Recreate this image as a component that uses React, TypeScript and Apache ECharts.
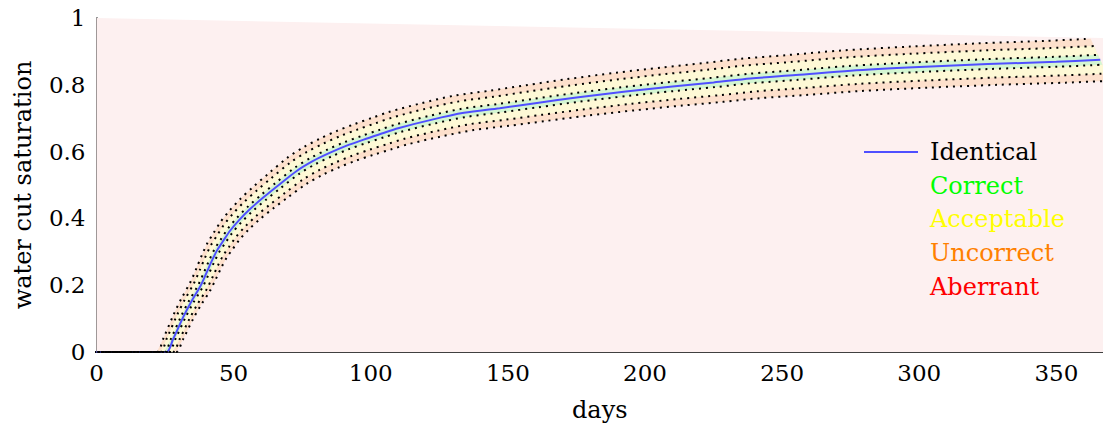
import React, { useEffect, useRef } from "react";
import * as echarts from "echarts";

// Main "Identical" curve: days and water cut saturation
const DAYS = [0, 10, 20, 25.5, 28, 31.7, 34.5, 37.8, 40, 42, 44, 46, 48.7, 52, 56, 60.9, 66, 73, 79, 85, 91, 97.4, 104, 110, 122, 134, 147, 160, 175, 193, 210, 225, 238.5, 255, 275, 300, 325, 350, 366];
const WATER_CUT = [0, 0, 0, 0, 0.04, 0.106, 0.15, 0.196, 0.235, 0.272, 0.305, 0.33, 0.363, 0.395, 0.428, 0.463, 0.497, 0.542, 0.572, 0.596, 0.617, 0.636, 0.654, 0.67, 0.695, 0.716, 0.73, 0.745, 0.762, 0.78, 0.795, 0.807, 0.819, 0.829, 0.842, 0.853, 0.862, 0.869, 0.875];

// Tolerance bands (relative value tolerance, time shift in days)
const BAND_NAMES = ["Uncorrect", "Acceptable", "Correct"];
const BAND_REL = [0.072, 0.047, 0.017];
const BAND_SHIFT = [3.5, 2.3, 0.8];
const BAND_FILLS = ["#fde0cc", "#fef9d6", "#d4f6d2"];

// Aberrant (background) region top edge
const ABERRANT_TOP = [[0, 1], [367, 0.94]];

const X_MAX = 367;
const X_STEP = 50;
const Y_STEP = 0.2;

const LEGEND_LABELS = ["Identical", "Correct", "Acceptable", "Uncorrect", "Aberrant"];
const LEGEND_COLORS = ["#000000", "#00ff00", "#ffff00", "#ff8000", "#ff0000"];

const FONT = "DejaVu Serif";
const BLUE = "#4f4fff";

function upperEdge(k: number): number[][] {
  return DAYS.map((d, i) => [d - BAND_SHIFT[k], Math.min(1, WATER_CUT[i] * (1 + BAND_REL[k]))]);
}
function lowerEdge(k: number): number[][] {
  return DAYS.map((d, i) => [d + BAND_SHIFT[k], WATER_CUT[i] * (1 - BAND_REL[k])]);
}

function polygonSeries(points: number[][], fill: string) {
  return {
    type: "custom",
    coordinateSystem: "cartesian2d",
    data: [[0, 0]],
    clip: true,
    silent: true,
    z: 1,
    renderItem: (_params: any, api: any) => ({
      type: "polygon",
      shape: { points: points.map((p) => api.coord(p)) },
      style: { fill, stroke: null },
    }),
  };
}

export default function App() {
  const ref = useRef<HTMLDivElement>(null);
  useEffect(() => {
    document.body.style.margin = "0";
    const chart = echarts.init(ref.current!, null, { renderer: "svg" });
    const series: any[] = [];
    const aberrantPoly = [[0, 0], ...ABERRANT_TOP, [X_MAX, 0]];
    series.push(polygonSeries(aberrantPoly, "#fdf0f0"));
    for (let k = 0; k < BAND_REL.length; k++) {
      const up = upperEdge(k);
      const lo = lowerEdge(k).slice().reverse();
      series.push(polygonSeries([...up, ...lo], BAND_FILLS[k]));
    }
    series.push({
      type: "line",
      name: "Identical",
      data: DAYS.map((d, i) => [d, WATER_CUT[i]]),
      showSymbol: false,
      smooth: 0.3,
      lineStyle: { color: BLUE, width: 2 },
      z: 3,
    });
    for (let k = 0; k < BAND_REL.length; k++) {
      for (const edge of [upperEdge(k), lowerEdge(k)]) {
        series.push({
          type: "line",
          data: edge,
          showSymbol: false,
          smooth: 0.3,
          clip: true,
          lineStyle: { color: "#000", width: 2, type: [2, 5], cap: "butt" },
          z: 4,
        });
      }
    }

    const legendBaselines = [152, 186, 219, 253, 287];
    const graphic: any[] = [
      {
        type: "line",
        shape: { x1: 864, y1: 152, x2: 918, y2: 152 },
        style: { stroke: BLUE, lineWidth: 2 },
        z: 10,
      },
      ...LEGEND_LABELS.map((t, i) => ({
        type: "text",
        x: 930,
        y: legendBaselines[i],
        z: 10,
        style: {
          text: t,
          fill: LEGEND_COLORS[i],
          font: `24px "${FONT}"`,
          textVerticalAlign: "middle",
          verticalAlign: "middle",
        },
      })),
    ];

    chart.setOption({
      animation: false,
      grid: { left: 96.5, top: 18, right: 0, bottom: 75, outerBoundsMode: "none", containLabel: false },
      xAxis: {
        type: "value",
        min: 0,
        max: X_MAX,
        interval: X_STEP,
        name: "days",
        nameLocation: "middle",
        nameGap: 46,
        nameTextStyle: { fontFamily: FONT, fontSize: 24, color: "#000" },
        axisLine: { show: true, lineStyle: { color: "#000", width: 1.5 } },
        axisTick: { show: false },
        splitLine: { show: false },
        axisLabel: { fontFamily: FONT, fontSize: 23, color: "#000", margin: 9, showMaxLabel: false },
      },
      yAxis: {
        type: "value",
        min: 0,
        max: 1,
        interval: Y_STEP,
        name: "water cut saturation",
        nameLocation: "middle",
        nameGap: 62,
        nameTextStyle: { fontFamily: FONT, fontSize: 24, color: "#000" },
        axisLine: { show: true, lineStyle: { color: "#000", width: 1.5 } },
        axisTick: { show: false },
        splitLine: { show: false },
        axisLabel: {
          fontFamily: FONT,
          fontSize: 23,
          color: "#000",
          margin: 11,
          formatter: (v: number) => String(parseFloat(v.toFixed(1))),
        },
      },
      series,
      graphic,
    });
    return () => chart.dispose();
  }, []);
  return <div ref={ref} style={{ width: 1103, height: 427 }} />;
}
